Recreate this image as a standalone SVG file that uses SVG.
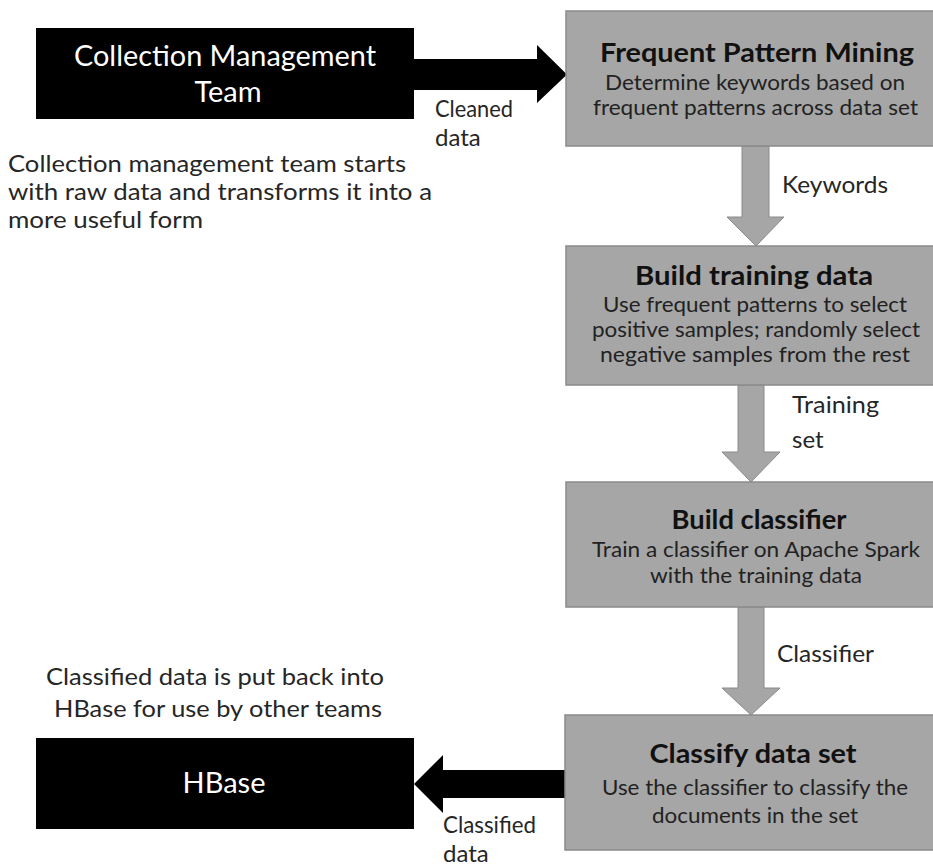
<svg xmlns="http://www.w3.org/2000/svg" width="933" height="866" viewBox="0 0 933 866">
<style>
  text{font-family:Lato,"Liberation Sans",sans-serif}
  .gbox{fill:#a6a6a6;stroke:#8a8a8a;stroke-width:1.5}
  .bbox{fill:#000}
  .garrow{fill:#a6a6a6;stroke:#8a8a8a;stroke-width:1}
  .barrow{fill:#000}
  .wt{fill:#fff;font-size:29px;text-anchor:middle}
  .title{fill:#111;font-size:27px;font-weight:bold;text-anchor:middle}
  .sub{fill:#222;font-size:21px;text-anchor:middle}
  .lbl{fill:#262626;font-size:24px}
  .desc{fill:#262626;font-size:23.5px}
</style>
<rect width="933" height="866" fill="#fff"/>

<g id="connectors">
  <polygon class="barrow" points="414,59 537,59 537,45 567,74.5 537,103 537,90 414,90"/>
  <polygon class="garrow" points="742,146 769,146 769,217 784,217 756,246 727,217 742,217"/>
  <polygon class="garrow" points="738,385 764,385 764,452 780,452 751,482 722,452 738,452"/>
  <polygon class="garrow" points="738,607 764,607 764,688 780,688 751,715 722,688 738,688"/>
  <polygon class="barrow" points="565,770 443,770 443,755 414,784 443,813 443,798 565,798"/>
  <text class="lbl" x="435" y="117" textLength="78" lengthAdjust="spacingAndGlyphs">Cleaned</text>
  <text class="lbl" x="435" y="146">data</text>
  <text class="lbl" x="782" y="193" font-size="26" textLength="106" lengthAdjust="spacingAndGlyphs">Keywords</text>
  <text class="lbl" x="792" y="413" font-size="26" textLength="87" lengthAdjust="spacingAndGlyphs">Training</text>
  <text class="lbl" x="792" y="448" font-size="26">set</text>
  <text class="lbl" x="777" y="662" font-size="26" textLength="97" lengthAdjust="spacingAndGlyphs">Classifier</text>
  <text class="lbl" x="443" y="833" textLength="93" lengthAdjust="spacingAndGlyphs">Classified</text>
  <text class="lbl" x="443" y="862">data</text>
</g>

<g id="cmt">
  <rect class="bbox" x="36" y="28" width="378" height="91"/>
  <text class="wt" x="225" y="66" textLength="302" lengthAdjust="spacingAndGlyphs">Collection Management</text>
  <text class="wt" x="228" y="102">Team</text>
</g>

<g id="cmt-note">
  <text class="desc" x="8" y="172" textLength="398" lengthAdjust="spacingAndGlyphs">Collection management team starts</text>
  <text class="desc" x="8" y="200" textLength="424" lengthAdjust="spacingAndGlyphs">with raw data and transforms it into a</text>
  <text class="desc" x="8" y="228" textLength="195" lengthAdjust="spacingAndGlyphs">more useful form</text>
</g>

<g id="fpm">
  <rect class="gbox" x="566" y="11" width="380" height="135"/>
  <text class="title" x="757" y="62" textLength="314" lengthAdjust="spacingAndGlyphs">Frequent Pattern Mining</text>
  <text class="sub" x="755" y="90" textLength="300" lengthAdjust="spacingAndGlyphs">Determine keywords based on</text>
  <text class="sub" x="755.5" y="115" textLength="325" lengthAdjust="spacingAndGlyphs">frequent patterns across data set</text>
</g>

<g id="btd">
  <rect class="gbox" x="566" y="246" width="380" height="139"/>
  <text class="title" x="754" y="285" textLength="238" lengthAdjust="spacingAndGlyphs">Build training data</text>
  <text class="sub" x="755" y="312" textLength="304" lengthAdjust="spacingAndGlyphs">Use frequent patterns to select</text>
  <text class="sub" x="756" y="337" textLength="328" lengthAdjust="spacingAndGlyphs">positive samples; randomly select</text>
  <text class="sub" x="755" y="362" textLength="310" lengthAdjust="spacingAndGlyphs">negative samples from the rest</text>
</g>

<g id="bc">
  <rect class="gbox" x="566" y="482" width="380" height="125"/>
  <text class="title" x="759" y="529" textLength="175" lengthAdjust="spacingAndGlyphs">Build classifier</text>
  <text class="sub" x="756" y="557" textLength="328" lengthAdjust="spacingAndGlyphs">Train a classifier on Apache Spark</text>
  <text class="sub" x="756" y="583" textLength="212" lengthAdjust="spacingAndGlyphs">with the training data</text>
</g>

<g id="cds">
  <rect class="gbox" x="565" y="715" width="381" height="135"/>
  <text class="title" x="753" y="763" textLength="207" lengthAdjust="spacingAndGlyphs">Classify data set</text>
  <text class="sub" x="755" y="795" textLength="306" lengthAdjust="spacingAndGlyphs">Use the classifier to classify the</text>
  <text class="sub" x="755" y="823" textLength="206" lengthAdjust="spacingAndGlyphs">documents in the set</text>
</g>

<g id="hbase-note">
  <text class="desc" x="46" y="685" textLength="338" lengthAdjust="spacingAndGlyphs">Classified data is put back into</text>
  <text class="desc" x="54" y="717" textLength="328" lengthAdjust="spacingAndGlyphs">HBase for use by other teams</text>
</g>

<g id="hbase">
  <rect class="bbox" x="36" y="738" width="378" height="91"/>
  <text class="wt" x="224" y="793">HBase</text>
</g>
</svg>
